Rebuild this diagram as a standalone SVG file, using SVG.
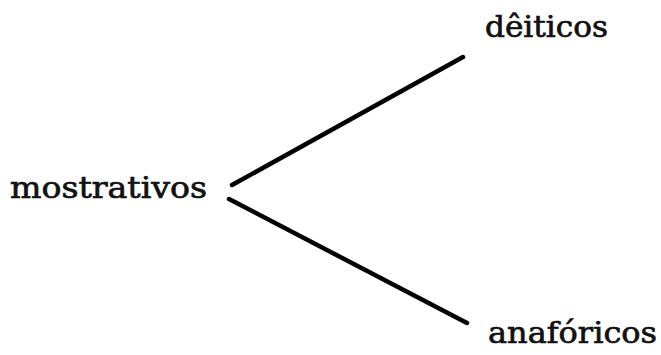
<svg xmlns="http://www.w3.org/2000/svg" width="661" height="355" viewBox="0 0 661 355">
<style>
.t{font-family:"DejaVu Serif","Liberation Serif",serif;font-size:30px;fill:#111;stroke:#111;stroke-width:0.7}
.c{stroke:#000;stroke-width:4.5;stroke-linecap:round;fill:none}
</style>
<rect width="661" height="355" fill="#fff"/>
<g id="mostrativos"><text class="t" x="10" y="198" textLength="197" lengthAdjust="spacingAndGlyphs">mostrativos</text></g>
<g id="deiticos"><text class="t" x="485" y="37" textLength="123" lengthAdjust="spacingAndGlyphs">dêiticos</text></g>
<g id="anaforicos"><text class="t" x="488" y="343" textLength="169" lengthAdjust="spacingAndGlyphs">anafóricos</text></g>
<g id="connectors">
<line class="c" x1="232" y1="185" x2="463" y2="57"/>
<line class="c" x1="229" y1="199" x2="467" y2="323"/>
</g>
</svg>
